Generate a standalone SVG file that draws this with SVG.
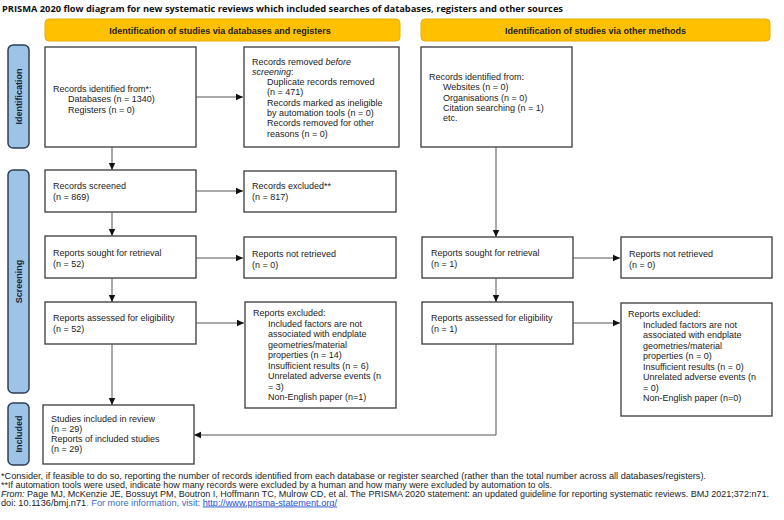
<svg xmlns="http://www.w3.org/2000/svg" width="784" height="520" viewBox="0 0 784 520">
<defs>
<marker id="ah" markerUnits="userSpaceOnUse" markerWidth="8" markerHeight="8" refX="7" refY="4" orient="auto">
<path d="M0,0.8 L7,4 L0,7.2 Z" fill="#111"/>
</marker>
<style>
.t{font-family:"Liberation Sans",Arial,sans-serif;font-size:9px;fill:#222}
.b{fill:#fff;stroke:#3a3a3a;stroke-width:1.3}
.hd{fill:#FFC000;stroke:#E8B000;stroke-width:1}
.ht{font-family:"Liberation Sans",Arial,sans-serif;font-size:9px;font-weight:bold;fill:#222;text-anchor:middle}
.sd{fill:#9DC3E6;stroke:#2E3F55;stroke-width:1.5}
.st{font-family:"Liberation Sans",Arial,sans-serif;font-size:9px;font-weight:bold;fill:#1a2333;text-anchor:middle}
.c{fill:none;stroke:#555;stroke-width:1}
.f{font-family:"Liberation Sans",Arial,sans-serif;font-size:8.8px;fill:#222}
</style>
</defs>
<rect width="784" height="520" fill="#fff"/>
<text x="2" y="11.5" font-family="'Open Sans','Liberation Sans',sans-serif" font-size="9.5" font-weight="bold" fill="#111" textLength="561" lengthAdjust="spacingAndGlyphs">PRISMA 2020 flow diagram for new systematic reviews which included searches of databases, registers and other sources</text>

<g id="hdr-db"><rect class="hd" x="45" y="19" width="355" height="22" rx="4"/><text class="ht" x="220" y="34.2">Identification of studies via databases and registers</text></g>
<g id="hdr-other"><rect class="hd" x="421" y="19" width="349" height="22" rx="4"/><text class="ht" x="595.5" y="34.2">Identification of studies via other methods</text></g>

<g id="side-identification"><rect class="sd" x="8" y="45" width="21" height="103" rx="5"/><text class="st" transform="translate(21.8,96.5) rotate(-90)">Identification</text></g>
<g id="side-screening"><rect class="sd" x="8" y="170" width="21" height="223" rx="5"/><text class="st" transform="translate(21.8,281.5) rotate(-90)">Screening</text></g>
<g id="side-included"><rect class="sd" x="8" y="403" width="21" height="62" rx="5"/><text class="st" transform="translate(21.8,434) rotate(-90)">Included</text></g>

<g id="records-identified"><rect class="b" x="45" y="47" width="151" height="100"/>
<text class="t"><tspan x="53" y="92">Records identified from*:</tspan><tspan x="68" y="102.3">Databases (n = 1340)</tspan><tspan x="68" y="112.6">Registers (n = 0)</tspan></text></g>

<g id="records-removed"><rect class="b" x="244" y="47" width="155" height="100"/>
<text class="t"><tspan x="252" y="64.5">Records removed <tspan font-style="italic">before</tspan></tspan><tspan x="252" y="74.8" font-style="italic">screening</tspan><tspan>:</tspan><tspan x="267" y="85.1">Duplicate records removed</tspan><tspan x="267" y="95.4">(n = 471)</tspan><tspan x="267" y="105.7">Records marked as ineligible</tspan><tspan x="267" y="116">by automation tools (n = 0)</tspan><tspan x="267" y="126.3">Records removed for other</tspan><tspan x="267" y="136.6">reasons (n = 0)</tspan></text></g>

<g id="records-screened"><rect class="b" x="45" y="170" width="151" height="42"/>
<text class="t"><tspan x="53" y="189">Records screened</tspan><tspan x="53" y="199.5">(n = 869)</tspan></text></g>

<g id="records-excluded"><rect class="b" x="244" y="171" width="152" height="41"/>
<text class="t"><tspan x="252" y="189">Records excluded**</tspan><tspan x="252" y="199.5">(n = 817)</tspan></text></g>

<g id="reports-sought"><rect class="b" x="45" y="236" width="151" height="42"/>
<text class="t"><tspan x="53" y="256">Reports sought for retrieval</tspan><tspan x="53" y="266.5">(n = 52)</tspan></text></g>

<g id="reports-not-retrieved"><rect class="b" x="244" y="237" width="152" height="41"/>
<text class="t"><tspan x="252" y="257">Reports not retrieved</tspan><tspan x="252" y="267.5">(n = 0)</tspan></text></g>

<g id="reports-assessed"><rect class="b" x="45" y="302" width="151" height="42"/>
<text class="t"><tspan x="53" y="321">Reports assessed for eligibility</tspan><tspan x="53" y="331.5">(n = 52)</tspan></text></g>

<g id="reports-excluded"><rect class="b" x="245" y="302" width="151" height="106"/>
<text class="t"><tspan x="253" y="316">Reports excluded:</tspan><tspan x="268" y="326.5">Included factors are not</tspan><tspan x="268" y="337">associated with endplate</tspan><tspan x="268" y="347.5">geometries/material</tspan><tspan x="268" y="358">properties (n = 14)</tspan><tspan x="268" y="368.5">Insufficient results (n = 6)</tspan><tspan x="268" y="379">Unrelated adverse events (n</tspan><tspan x="268" y="389.5">= 3)</tspan><tspan x="268" y="400">Non-English paper (n=1)</tspan></text></g>

<g id="studies-included"><rect class="b" x="43" y="405" width="151" height="59"/>
<text class="t"><tspan x="51" y="421.5">Studies included in review</tspan><tspan x="51" y="431.8">(n = 29)</tspan><tspan x="51" y="442.1">Reports of included studies</tspan><tspan x="51" y="452.4">(n = 29)</tspan></text></g>

<g id="other-records-identified"><rect class="b" x="421" y="47" width="151" height="100"/>
<text class="t"><tspan x="429" y="80">Records identified from:</tspan><tspan x="443" y="90.3">Websites (n = 0)</tspan><tspan x="443" y="100.6">Organisations (n = 0)</tspan><tspan x="443" y="110.9">Citation searching (n = 1)</tspan><tspan x="443" y="121.2">etc.</tspan></text></g>

<g id="other-reports-sought"><rect class="b" x="422" y="237" width="151" height="41"/>
<text class="t"><tspan x="431" y="256">Reports sought for retrieval</tspan><tspan x="431" y="266.5">(n = 1)</tspan></text></g>

<g id="other-reports-not-retrieved"><rect class="b" x="621" y="237" width="151" height="41"/>
<text class="t"><tspan x="629" y="257">Reports not retrieved</tspan><tspan x="629" y="267.5">(n = 0)</tspan></text></g>

<g id="other-reports-assessed"><rect class="b" x="422" y="302" width="151" height="42"/>
<text class="t"><tspan x="431" y="321">Reports assessed for eligibility</tspan><tspan x="431" y="331.5">(n = 1)</tspan></text></g>

<g id="other-reports-excluded"><rect class="b" x="621" y="303" width="151" height="113"/>
<text class="t"><tspan x="628" y="317">Reports excluded:</tspan><tspan x="643" y="327.5">Included factors are not</tspan><tspan x="643" y="338">associated with endplate</tspan><tspan x="643" y="348.5">geometries/material</tspan><tspan x="643" y="359">properties (n = 0)</tspan><tspan x="643" y="369.5">Insufficient results (n = 0)</tspan><tspan x="643" y="380">Unrelated adverse events (n</tspan><tspan x="643" y="390.5">= 0)</tspan><tspan x="643" y="401">Non-English paper (n=0)</tspan></text></g>

<g id="connectors">
<path class="c" marker-end="url(#ah)" d="M196,97 H243"/>
<path class="c" marker-end="url(#ah)" d="M112,147 V170"/>
<path class="c" marker-end="url(#ah)" d="M196,191 H243"/>
<path class="c" marker-end="url(#ah)" d="M112,212 V236"/>
<path class="c" marker-end="url(#ah)" d="M196,258 H243"/>
<path class="c" marker-end="url(#ah)" d="M112,278 V302"/>
<path class="c" marker-end="url(#ah)" d="M196,323 H244"/>
<path class="c" marker-end="url(#ah)" d="M112,344 V405"/>
<path class="c" marker-end="url(#ah)" d="M496,147 V237"/>
<path class="c" marker-end="url(#ah)" d="M573,258 H620"/>
<path class="c" marker-end="url(#ah)" d="M496,278 V302"/>
<path class="c" marker-end="url(#ah)" d="M573,323 H620"/>
<path class="c" marker-end="url(#ah)" d="M496,344 V435 H194"/>
</g>

<g id="footnotes">
<text class="f" x="1" y="479" textLength="705" lengthAdjust="spacingAndGlyphs">*Consider, if feasible to do so, reporting the number of records identified from each database or register searched (rather than the total number across all databases/registers).</text>
<text class="f" x="1" y="487.5" textLength="551" lengthAdjust="spacingAndGlyphs">**If automation tools were used, indicate how many records were excluded by a human and how many were excluded by automation to ols.</text>
<text class="f" x="1" y="496.5" textLength="768" lengthAdjust="spacingAndGlyphs"><tspan font-style="italic">From:</tspan>  Page MJ, McKenzie JE, Bossuyt PM, Boutron I, Hoffmann TC, Mulrow CD, et al. The PRISMA 2020 statement: an updated guideline for reporting systematic reviews. BMJ 2021;372:n71.</text>
<text class="f" x="1" y="505.5" textLength="336" lengthAdjust="spacingAndGlyphs">doi: 10.1136/bmj.n71<tspan fill="#3B6CC5">. For more information, visit: </tspan><tspan fill="#1F4FD0" text-decoration="underline">http://www.prisma-statement.org/</tspan></text>
</g>
</svg>
